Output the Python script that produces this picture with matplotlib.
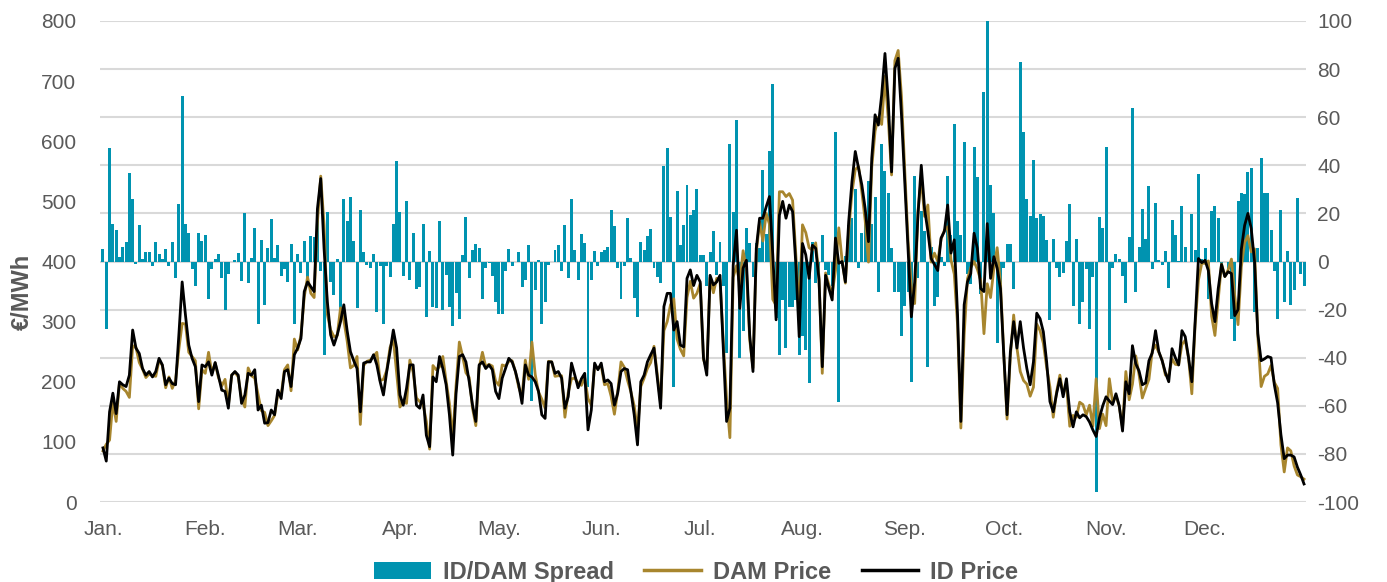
import numpy as np
import pandas as pd
import matplotlib
matplotlib.use("Agg")
import matplotlib.pyplot as plt
import matplotlib.dates as mdates
from matplotlib.patches import Patch
from matplotlib.lines import Line2D

plt.rcParams["font.family"] = ["Liberation Sans", "DejaVu Sans"]
plt.rcParams["axes.unicode_minus"] = False

# daily intraday (ID) price, EUR/MWh, Jan 1 .. Dec 31
id_price = [
    90, 68, 150, 181, 147, 200, 195, 192, 211, 286,
    256, 247, 222, 211, 217, 208, 217, 239, 228, 195,
    206, 197, 195, 278, 366, 311, 261, 239, 225, 167,
    228, 225, 233, 211, 232, 210, 186, 184, 156, 211,
    217, 211, 164, 178, 214, 211, 220, 153, 161, 131,
    132, 153, 145, 186, 172, 217, 220, 192, 245, 256,
    272, 350, 366, 358, 350, 488, 538, 422, 333, 278,
    261, 278, 300, 328, 285, 250, 235, 222, 150, 231,
    233, 233, 245, 228, 200, 178, 217, 250, 286, 256,
    178, 161, 189, 228, 228, 161, 156, 178, 111, 92,
    208, 200, 242, 222, 195, 145, 78, 180, 242, 245,
    233, 200, 161, 134, 228, 233, 222, 228, 220, 184,
    172, 206, 222, 239, 233, 217, 195, 164, 228, 211,
    208, 200, 184, 145, 139, 233, 233, 214, 217, 206,
    156, 175, 231, 211, 190, 205, 214, 120, 153, 231,
    220, 231, 200, 203, 197, 161, 181, 217, 222, 220,
    184, 145, 95, 200, 211, 233, 245, 256, 206, 156,
    325, 347, 347, 286, 300, 261, 258, 372, 386, 360,
    377, 366, 240, 211, 377, 361, 366, 377, 256, 134,
    156, 394, 452, 322, 389, 402, 278, 217, 422, 472,
    472, 491, 508, 411, 303, 477, 500, 472, 494, 483,
    394, 275, 430, 411, 372, 427, 422, 370, 225, 377,
    355, 336, 439, 397, 400, 366, 466, 533, 583, 555,
    527, 488, 433, 572, 644, 627, 677, 746, 666, 549,
    721, 738, 644, 533, 422, 308, 366, 477, 560, 488,
    450, 405, 395, 385, 439, 450, 494, 414, 436, 311,
    134, 328, 366, 380, 447, 422, 355, 350, 463, 372,
    408, 389, 355, 245, 145, 250, 300, 256, 300, 256,
    222, 195, 233, 314, 305, 283, 233, 167, 150, 180,
    205, 175, 205, 150, 125, 150, 140, 145, 142, 133,
    120, 109, 140, 160, 175, 168, 162, 180, 160, 118,
    200, 180, 260, 230, 218, 195, 198, 235, 248, 285,
    250, 235, 215, 200, 255, 240, 228, 285, 275, 240,
    200, 300, 405, 398, 402, 385, 330, 300, 355, 395,
    375, 383, 380, 310, 320, 420, 460, 480, 455, 400,
    280, 235, 238, 242, 240, 195, 165, 112, 72, 78,
    78, 75, 58, 45, 30,
]

# daily day-ahead (DAM) price, EUR/MWh
dam_price = [
    85, 96, 103, 166, 134, 198, 189, 184, 174, 260,
    257, 232, 221, 207, 213, 210, 209, 236, 227, 190,
    208, 189, 202, 254, 297, 296, 249, 242, 235, 155,
    220, 214, 249, 214, 231, 207, 193, 204, 161, 211,
    216, 208, 172, 158, 223, 210, 206, 179, 152, 149,
    127, 135, 144, 179, 178, 220, 228, 185, 271, 253,
    277, 341, 374, 347, 340, 466, 542, 461, 312, 286,
    275, 277, 323, 302, 268, 223, 227, 242, 129, 227,
    234, 236, 242, 249, 202, 204, 219, 257, 271, 214,
    158, 167, 164, 236, 216, 173, 167, 163, 134, 88,
    227, 220, 225, 242, 201, 164, 105, 193, 266, 242,
    215, 207, 156, 127, 223, 249, 225, 229, 226, 201,
    194, 228, 226, 234, 235, 217, 191, 175, 236, 204,
    266, 212, 183, 171, 156, 234, 233, 209, 210, 210,
    141, 182, 205, 206, 198, 194, 207, 172, 161, 227,
    222, 227, 195, 197, 176, 146, 184, 233, 224, 202,
    183, 160, 118, 192, 206, 222, 232, 259, 212, 165,
    285, 300, 328, 338, 271, 254, 243, 340, 367, 339,
    347, 363, 237, 221, 373, 348, 372, 369, 266, 172,
    107, 374, 393, 362, 418, 388, 270, 223, 414, 466,
    434, 480, 462, 337, 327, 516, 516, 508, 513, 502,
    410, 314, 461, 448, 423, 419, 431, 375, 214, 381,
    361, 346, 385, 456, 402, 364, 451, 515, 553, 558,
    515, 468, 399, 557, 617, 640, 628, 708, 637, 544,
    734, 751, 675, 551, 435, 358, 330, 484, 539, 475,
    494, 399, 414, 400, 437, 452, 458, 403, 379, 294,
    123, 278, 371, 390, 400, 387, 369, 280, 363, 340,
    388, 423, 365, 248, 138, 243, 311, 256, 217, 202,
    196, 176, 191, 296, 285, 264, 224, 191, 141, 183,
    211, 180, 196, 126, 144, 141, 166, 162, 145, 161,
    126, 205, 122, 146, 127, 205, 165, 177, 159, 124,
    217, 170, 196, 243, 212, 173, 189, 204, 251, 261,
    249, 236, 211, 211, 238, 229, 228, 262, 269, 240,
    180, 295, 369, 397, 397, 401, 309, 277, 337, 396,
    375, 386, 404, 343, 295, 391, 432, 443, 416, 421,
    275, 192, 209, 213, 227, 199, 189, 95, 50, 90,
    85, 60, 45, 42, 38,
]

# daily ID/DAM spread, EUR/MWh (right axis)
spread = [
    5, -28, 47, 15.5, 13, 2, 6, 8, 37, 26,
    -1, 15, 1, 4, 4, -2, 8, 3, 1, 5,
    -2, 8, -7, 24, 69, 15.5, 12, -3, -10, 12,
    8.5, 11, -15.6, -3, 1, 3, -7, -20, -5, 0,
    0.6, 3.4, -8, 20, -9, 1.3, 14, -26, 9, -18,
    5.5, 17.7, 1.3, 7, -6, -3, -8.4, 7.3, -26, 3,
    -4.6, 8.7, -8.4, 10.6, 10, 22, -4, -39, 20.7, -8.4,
    -14, 1, -23, 26, 17, 27, 8.5, -19.5, 21.4, 3.8,
    -1.4, -2.8, 3, -21, -2, -26, -2, -6.6, 15.5, 41.8,
    20.4, -6, 25.3, -7.7, 12, -11.6, -10.7, 15.5, -23, 4.5,
    -19, -19.5, 16.8, -20, -5.6, -19, -27, -13, -24, 2.7,
    18.4, -7, 4.8, 7.1, 5.5, -15.6, -2.5, -0.8, -6, -16.7,
    -22, -22, -4, 5, -1.7, 0, 3.8, -10.5, -7.7, 6.9,
    -58, -12, 0.6, -26, -16.7, -1.4, 0, 4.8, 6.9, -4,
    15, -7, 26, 4.8, -7.7, 11.4, 7.5, -52, -7.7, 4.4,
    -2, 3.8, 4.6, 6.2, 21.4, 14.8, -2.8, -15.6, -1.7, 18.2,
    1.3, -15, -23, 8, 4.8, 10.6, 13.5, -2.5, -6.3, -9,
    39.8, 47, 18.6, -52, 29.5, 6.9, 15.2, 32, 19.3, 21.4,
    30, 2.7, 2.7, -10, 3.8, 12.7, -5.6, 8, -10, -38,
    49, 20.4, 59, -40, -29, 14, 7.8, -6.3, 7.8, 5.5,
    38, 11.4, 46, 73.8, -23.6, -39, -16, -36, -19, -19,
    -16, -39, -31, -37, -50.6, 8.3, -9, -5, 11, -3.5,
    -5.6, -10, 53.7, -58.6, -2, 2.4, 15, 18.2, 30, -2.8,
    11.7, 19.6, 33.6, 15.5, 26.7, -12.5, 48.9, 37.6, 28.6, 5.5,
    -12.5, -12.5, -31, -18.4, -12.8, -50, 35.7, -7, 21, 12.7,
    -44, 6.2, -18.5, -14.6, 2, -1.7, 35.6, 11, 57, 16.8,
    11, 49.8, -5, -9.5, 47.5, 35.3, -13.5, 70.3, 100, 31.8,
    20.3, -34, -9.5, -2.8, 7.1, 7.3, -11.4, 0, 82.8, 54,
    26, 19, 42, 18, 19.8, 19, 8.8, -24.3, 9.4, -2.8,
    -6.3, -4.6, 8.7, 23.8, -18.5, 9.2, -26, -16.7, -3, -28,
    -6.3, -96, 18.4, 14, 47.7, -37, -2.8, 3, 1, -6,
    -17.4, 10, 64, -12.8, 6, 21.8, 9.2, 31.5, -3.2, 24.2,
    0.6, -1.4, 4.5, -11, 17.3, 11, 0.2, 23, 6, 0,
    19.6, 4.8, 36.4, 1, 5.5, -15.6, 21, 23, 18.2, -1.4,
    0, -3, -24, -33, 25, 28.6, 28, 37.4, 39, -21,
    5.5, 43, 28.6, 28.6, 13, -4, -24, 21.4, -17, 4.4,
    -18, -12, 26.5, -5, -10,
]

dates = pd.date_range("2023-01-01", periods=len(id_price), freq="D")

TEAL = "#0093B0"
GOLD = "#A8862E"
TEXT = "#595959"
GRID = "#D9D9D9"

fig = plt.figure(figsize=(13.87, 5.82), dpi=100)
ax2 = fig.add_axes([100 / 1387, 80 / 582, 1206 / 1387, 481 / 582])
ax = ax2.twinx()

# spread bars on the right axis, drawn under the price lines
ax2.bar(dates, spread, width=0.9, color=TEAL, zorder=2)
ax2.set_ylim(-100, 100)
ax2.set_yticks(np.arange(-100, 101, 20))
ax2.grid(axis="y", color=GRID, linewidth=1.5, zorder=0)
ax2.set_axisbelow(True)
ax2.yaxis.tick_right()

ax.plot(dates, dam_price, color=GOLD, linewidth=2.0, zorder=3)
ax.plot(dates, id_price, color="black", linewidth=2.0, zorder=4)
ax.set_ylim(0, 800)
ax.set_yticks(np.arange(0, 801, 100))
ax.yaxis.tick_left()

ax2.set_xlim(dates[0] - pd.Timedelta(days=0.9), dates[-1] + pd.Timedelta(days=0.6))
ax2.xaxis.set_major_locator(mdates.MonthLocator())
ax2.xaxis.set_major_formatter(mdates.DateFormatter("%b."))

for a in (ax, ax2):
    for s in a.spines.values():
        s.set_visible(False)
    a.tick_params(length=0, labelsize=15, labelcolor=TEXT)
ax2.tick_params(axis="x", pad=13)
ax.tick_params(axis="y", pad=17)
ax2.tick_params(axis="y", pad=8)

fig.text(22 / 1387, 0.498, "€/MWh", rotation=90, ha="center", va="center",
         fontsize=17, fontweight="bold", color=TEXT)

handles = [
    Patch(facecolor=TEAL, edgecolor="none"),
    Line2D([], [], color=GOLD, linewidth=2.5),
    Line2D([], [], color="black", linewidth=2.5),
]
fig.legend(handles, ["ID/DAM Spread", "DAM Price", "ID Price"], loc="center",
           bbox_to_anchor=(0.502, 0.017), ncol=3, frameon=False,
           prop={"size": 17, "weight": "bold"}, labelcolor=TEXT,
           handlelength=2.4, handletextpad=0.5, columnspacing=1.3)

fig.savefig("out.png", dpi=100)
